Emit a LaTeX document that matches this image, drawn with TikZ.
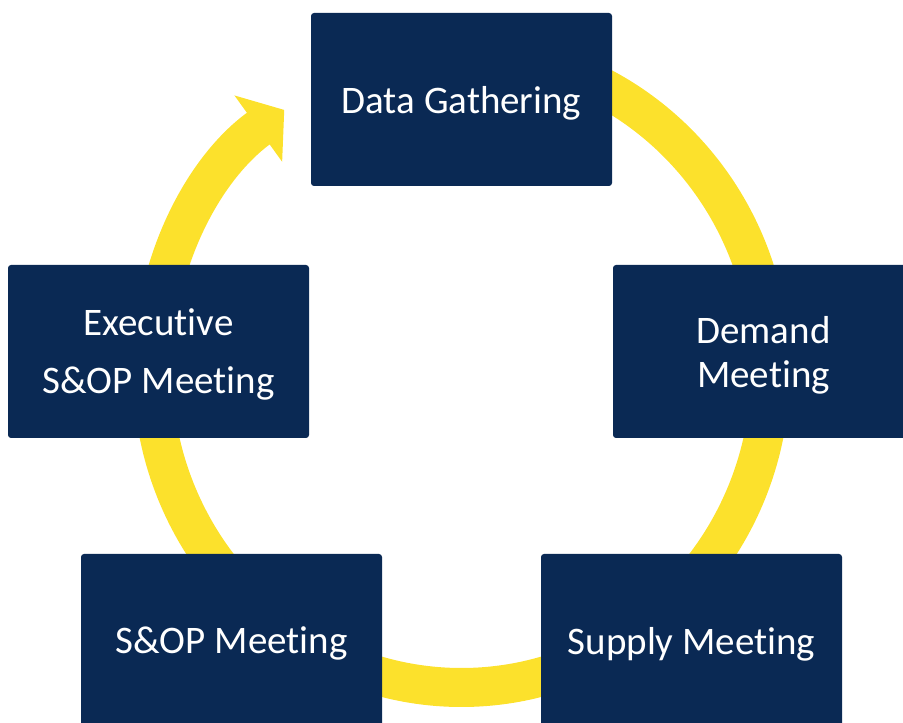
\documentclass[tikz,border=0pt]{standalone}
\usepackage{fontspec}
\setmainfont{Carlito}[Ligatures={NoCommon}]
\usetikzlibrary{arrows.meta}
\definecolor{navy}{RGB}{10,41,84}
\definecolor{ringyellow}{RGB}{252,225,44}

\begin{document}
\begin{tikzpicture}[x=1pt, y=1pt,
    stage/.style={fill=navy, text=white, rounded corners=3pt,
      minimum width=301pt, minimum height=173pt, inner sep=0pt,
      text depth=0pt, align=center, font=\fontsize{39}{47}\selectfont}]
      \useasboundingbox (0, 0) rectangle (903, 723);
      \clip (0, 0) rectangle (903, 723);
      % the yellow cycle behind the boxes
      \draw[ringyellow, line width=39pt, -{Triangle[width=80pt, length=32pt]}]
        (461.5, 670.5) arc[start angle=90, end angle=-235, x radius=309, y radius=317.5];

      \node[stage] (data) at (461.5, 623.5){Data Gathering};
      \node[stage, font=\fontsize{39}{44}\selectfont] (demand) at (763.5, 371.5){Demand\\Meeting};
      \node[stage] (supply) at (691.5, 82.5){Supply Meeting};
      \node[stage] (sop) at (231.5, 82.5){S\&OP Meeting};
      \node[stage, font=\fontsize{39}{58}\selectfont] (exec) at (158.5, 371.5){Executive\\S\&OP Meeting};
    \end{tikzpicture}
\end{document}
